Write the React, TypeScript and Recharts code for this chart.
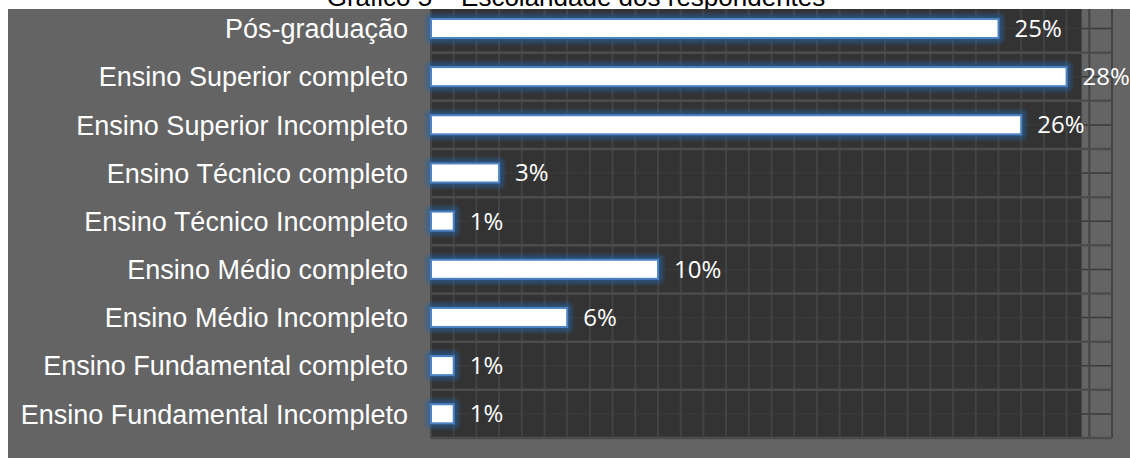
import {
  Bar,
  BarChart,
  CartesianGrid,
  LabelList,
  ReferenceArea,
  XAxis,
  YAxis,
} from "recharts";

const categories = [
  "Pós-graduação",
  "Ensino Superior completo",
  "Ensino Superior Incompleto",
  "Ensino Técnico completo",
  "Ensino Técnico Incompleto",
  "Ensino Médio completo",
  "Ensino Médio Incompleto",
  "Ensino Fundamental completo",
  "Ensino Fundamental Incompleto",
];

const percents = [25, 28, 26, 3, 1, 10, 6, 1, 1];

// one grid column per percent point, 0 to 30
const xTicks = Array.from({ length: 31 }, (_, i) => i);

// the dark plot panel stops a bit before the last gridline
const darkPanelEnd = 28.66;

const title = "Gráfico 5 – Escolaridade dos respondentes";

const data = categories.map((name, i) => ({ name, value: percents[i] }));

// soft blue halo drawn as a few widening translucent rings, then the white bar
const glowRings = [7, 5, 3.5, 2];

const GlowBar = (props: any) => {
  const { x, y, width, height } = props;
  return (
    <g>
      {glowRings.map((g) => (
        <rect
          key={g}
          x={x - g}
          y={y - g}
          width={width + 2 * g}
          height={height + 2 * g}
          rx={g}
          fill="#2a62a6"
          fillOpacity={0.2}
        />
      ))}
      <rect
        x={x}
        y={y}
        width={width}
        height={height}
        fill="#ffffff"
        stroke="#4f84c4"
        strokeWidth={2}
      />
    </g>
  );
};

export default function App() {
  return (
    <div
      style={{
        position: "absolute",
        top: 0,
        left: 8,
        width: 1122,
        height: 458,
        background: "#646464",
        fontFamily: '"Liberation Sans", Arial, sans-serif',
      }}
    >
      <BarChart
        width={1122}
        height={458}
        data={data}
        layout="vertical"
        margin={{ top: 4.5, right: 18, bottom: 20, left: 0 }}
        barCategoryGap="30%"
      >
        <ReferenceArea
          x1={0}
          x2={darkPanelEnd}
          fill="#333333"
          fillOpacity={1}
          stroke="none"
          zIndex={-200}
        />
        <CartesianGrid vertical={false} stroke="#3a3a3a" strokeWidth={1.5} />
        <CartesianGrid horizontal={false} stroke="#434343" strokeWidth={2} />
        <CartesianGrid
          vertical={false}
          stroke="#4c4c4c"
          strokeWidth={2.5}
          horizontalCoordinatesGenerator={({ offset }: any) =>
            Array.from(
              { length: categories.length + 1 },
              (_, i) => offset.top + (i * offset.height) / categories.length
            )
          }
        />
        <XAxis type="number" domain={[0, 30]} ticks={xTicks} hide />
        <YAxis
          type="category"
          dataKey="name"
          width={423}
          axisLine={false}
          tickLine={false}
          tickSize={0}
          tickMargin={23}
          interval={0}
          tick={{ fill: "#ffffff", fontSize: 27, fontFamily: '"Liberation Sans", Arial, sans-serif' }}
        />
        <Bar dataKey="value" shape={GlowBar} isAnimationActive={false}>
          <LabelList
            dataKey="value"
            position="right"
            offset={16}
            formatter={(v: any) => `${v}%`}
            fill="#ffffff"
            fontSize={24}
            fontFamily='"Open Sans", sans-serif'
          />
        </Bar>
      </BarChart>
      <div
        style={{
          position: "absolute",
          top: 0,
          left: -8,
          width: 1130,
          height: 9,
          overflow: "hidden",
          background: "#ffffff",
        }}
      >
        <div
          style={{
            position: "absolute",
            top: -16,
            left: 0,
            width: 1152,
            textAlign: "center",
            fontSize: 26,
            lineHeight: "26px",
            color: "#000000",
            whiteSpace: "nowrap",
          }}
        >
          {title}
        </div>
      </div>
    </div>
  );
}
